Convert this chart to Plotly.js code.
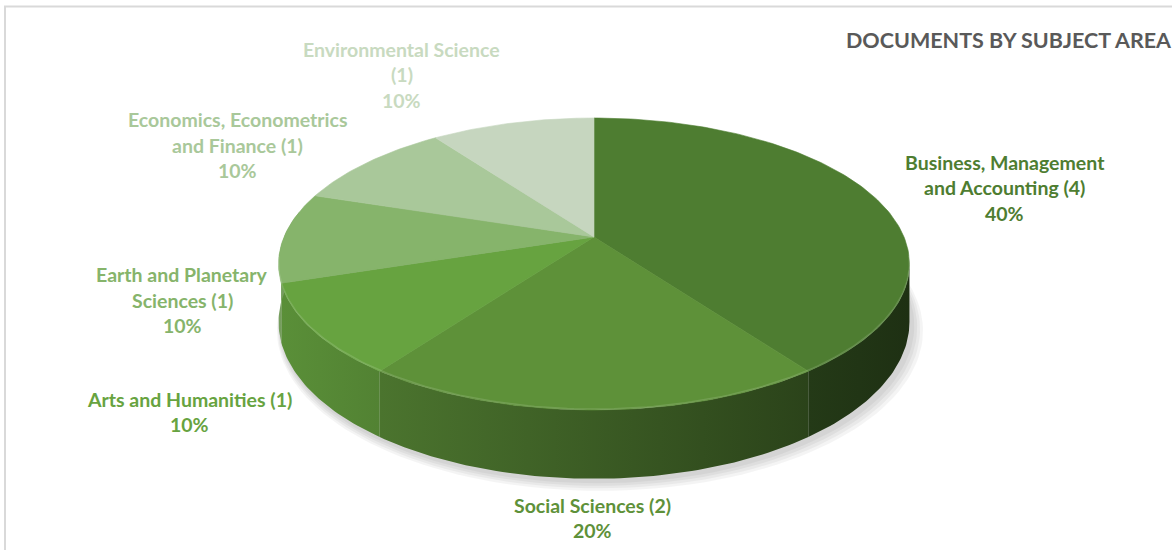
<!DOCTYPE html>
<html>
<head>
<meta charset="utf-8">
<script src="https://cdn.plot.ly/plotly-3.0.1.min.js"></script>
<style>
  html, body { margin: 0; padding: 0; background: #ffffff; }
  #chart { width: 1172px; height: 550px; }
</style>
</head>
<body>
<div id="chart"></div>
<script>
// ---------------- DATA ----------------
const categories = [
  'Business, Management and Accounting',
  'Social Sciences',
  'Arts and Humanities',
  'Earth and Planetary Sciences',
  'Economics, Econometrics and Finance',
  'Environmental Science'
];
const documentCounts = [4, 2, 1, 1, 1, 1];
const sliceColors = ['#4E7D31', '#5E9139', '#67A340', '#86B46B', '#A9C89A', '#C6D6BF'];
const labelColors = ['#4E7D31', '#5E9139', '#67A340', '#86B46B', '#A9C89A', '#C8DAC0'];
const chartTitle = 'DOCUMENTS BY SUBJECT AREA';

// ---------------- GEOMETRY (perspective 3D pie) ----------------
const CX = 594, CY = 237;      // apex of the pie on screen
const RX = 310, RY = 141;      // projected radii
const PQ = 0.185;              // perspective factor
const DEPTH = 56;              // thickness of the pie
const FONT = 'Lato, "Open Sans", sans-serif';

function proj(deg, z, r) {
  r = (r === undefined) ? 1 : r;
  const t = deg * Math.PI / 180;
  const s = Math.sin(t), c = Math.cos(t);
  const den = 1 + PQ * s;
  return [CX + r * RX * c / den, CY - r * RY * s / den + z * DEPTH / den];
}
function hexToRgb(h) {
  const n = parseInt(h.slice(1), 16);
  return [(n >> 16) & 255, (n >> 8) & 255, n & 255];
}
function shade(h, f) {
  const [r, g, b] = hexToRgb(h);
  return 'rgb(' + Math.round(r * f) + ',' + Math.round(g * f) + ',' + Math.round(b * f) + ')';
}
// lighting on the side wall: brighter at left, darker at right
function wallFactor(x) {
  const t = Math.min(1, Math.max(0, (x - 277) / (910 - 277)));
  return 0.88 - t * 0.5;
}

const total = documentCounts.reduce((a, b) => a + b, 0);
const slices = [];
let startAngle = 90;
documentCounts.forEach((v, i) => {
  const sweep = 360 * v / total;
  slices.push({ i: i, a0: startAngle, a1: startAngle - sweep, mid: startAngle - sweep / 2 });
  startAngle -= sweep;
});

const traces = [];

// soft shadow under the pie
for (let k = 4; k >= 1; k--) {
  const xs = [], ys = [];
  for (let d = 0; d <= 360; d += 2) {
    const p = proj(d, 1, 1 + 0.006 * k);
    xs.push(p[0] + 2 + k); ys.push(p[1] + 2 + k * 1.5);
  }
  traces.push({ type: 'scatter', mode: 'lines', x: xs, y: ys, fill: 'toself',
    fillcolor: 'rgba(0,0,0,0.045)', line: { width: 0 }, hoverinfo: 'skip' });
}

// visible front wall arc (between silhouette tangents)
const silA = Math.asin(PQ) * 180 / Math.PI;   // ~10.7 deg
const walls = [];
slices.forEach(sl => {
  const lo = Math.max(sl.a1, -180 - silA);
  const hi = Math.min(sl.a0, -silA);
  if (hi > lo) walls.push({ i: sl.i, lo: lo, hi: hi });
});
walls.forEach(w => {
  const xs = [], ys = [];
  const n = Math.max(8, Math.ceil((w.hi - w.lo)));
  for (let k = 0; k <= n; k++) {
    const d = w.hi - (w.hi - w.lo) * k / n;
    const p = proj(d, 0); xs.push(p[0]); ys.push(p[1]);
  }
  for (let k = n; k >= 0; k--) {
    const d = w.hi - (w.hi - w.lo) * k / n;
    const p = proj(d, 1); xs.push(p[0]); ys.push(p[1]);
  }
  xs.push(xs[0]); ys.push(ys[0]);
  const xmin = Math.min(...xs), xmax = Math.max(...xs);
  const col = sliceColors[w.i];
  traces.push({
    type: 'scatter', mode: 'lines', x: xs, y: ys, fill: 'toself',
    fillcolor: shade(col, wallFactor((xmin + xmax) / 2)),
    fillgradient: { type: 'horizontal', start: xmin, stop: xmax,
      colorscale: [[0, shade(col, wallFactor(xmin))], [1, shade(col, wallFactor(xmax))]] },
    line: { width: 0 }, hoverinfo: 'skip'
  });
});

// top faces
slices.forEach(sl => {
  const xs = [CX], ys = [CY];
  const n = Math.max(8, Math.ceil(sl.a0 - sl.a1));
  for (let k = 0; k <= n; k++) {
    const d = sl.a0 - (sl.a0 - sl.a1) * k / n;
    const p = proj(d, 0); xs.push(p[0]); ys.push(p[1]);
  }
  xs.push(CX); ys.push(CY);
  traces.push({
    type: 'scatter', mode: 'lines', x: xs, y: ys, fill: 'toself',
    fillcolor: sliceColors[sl.i], line: { width: 0.6, color: sliceColors[sl.i] },
    hoverinfo: 'skip'
  });
});

// subtle bevel highlight on front rim
(function () {
  const xs = [], ys = [];
  for (let d = -8; d >= -172; d -= 1) { const p = proj(d, 0); xs.push(p[0]); ys.push(p[1] - 1); }
  traces.push({ type: 'scatter', mode: 'lines', x: xs, y: ys,
    line: { width: 1.5, color: 'rgba(255,255,255,0.13)' }, hoverinfo: 'skip' });
})();

// ---------------- LABELS ----------------
function wrap(text, maxChars) {
  const words = text.split(' ');
  const lines = []; let cur = '';
  words.forEach(w => {
    const t = cur ? cur + ' ' + w : w;
    if (t.length > maxChars && cur) { lines.push(cur); cur = w; } else cur = t;
  });
  if (cur) lines.push(cur);
  return lines;
}
// offset of each label block centre from the rim point at the slice's mid-angle
const labelOffsets = [[132, -8], [-2, 108], [-123, 82], [-102, 63], [-130, -17], [-111, -48]];
const LINE_H = 25.5;
const annotations = [];
slices.forEach(sl => {
  const i = sl.i;
  const lines = wrap(categories[i] + ' (' + documentCounts[i] + ')', 23);
  lines.push(Math.round(documentCounts[i] / total * 100) + '%');
  const rim = proj(sl.mid, 0);
  const cx = rim[0] + labelOffsets[i][0], cy = rim[1] + labelOffsets[i][1];
  lines.forEach((ln, k) => {
    annotations.push({
      x: cx, y: cy + (k - (lines.length - 1) / 2) * LINE_H, xref: 'x', yref: 'y',
      text: ln, showarrow: false, xanchor: 'center', yanchor: 'middle',
      font: { family: FONT, size: 19.5, color: labelColors[i], weight: 700 }
    });
  });
});
annotations.push({
  x: 844, y: 40, xref: 'x', yref: 'y', text: chartTitle, showarrow: false,
  xanchor: 'left', yanchor: 'middle',
  font: { family: FONT, size: 21.5, color: '#595959', weight: 700 }
});

const layout = {
  width: 1172, height: 550,
  margin: { l: 0, r: 0, t: 0, b: 0 },
  paper_bgcolor: '#ffffff', plot_bgcolor: '#ffffff',
  showlegend: false, hovermode: false,
  xaxis: { range: [0, 1172], visible: false, fixedrange: true },
  yaxis: { range: [550, 0], visible: false, fixedrange: true },
  annotations: annotations,
  shapes: [
    { type: 'line', xref: 'x', yref: 'y', x0: 4, x1: 1172, y0: 6.5, y1: 6.5, line: { color: '#D9D9D9', width: 2 } },
    { type: 'line', xref: 'x', yref: 'y', x0: 5, x1: 5, y0: 6, y1: 550, line: { color: '#D9D9D9', width: 2 } }
  ]
};

Plotly.newPlot('chart', traces, layout, { displayModeBar: false, staticPlot: true });
</script>
</body>
</html>
